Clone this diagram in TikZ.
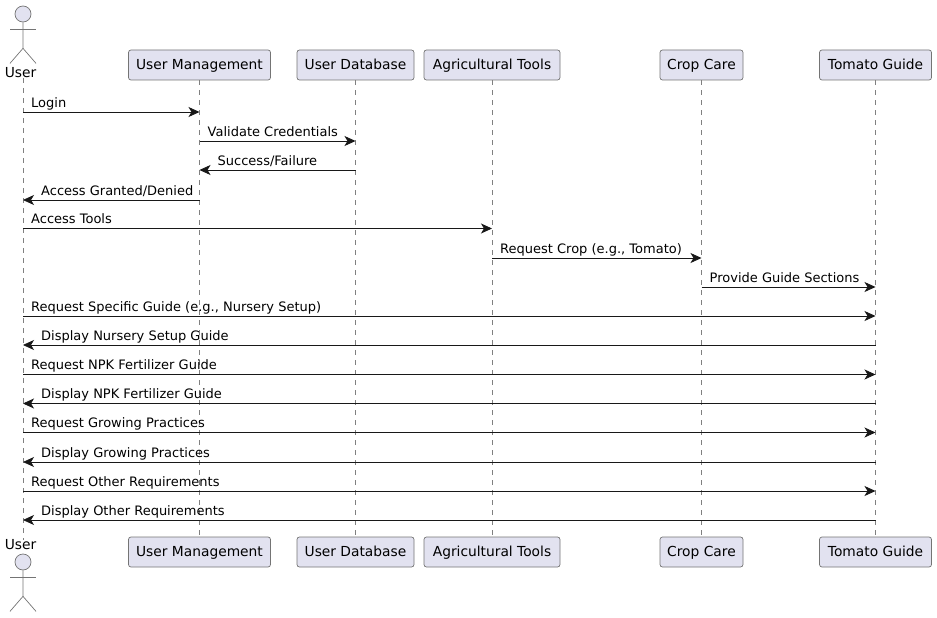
\documentclass[tikz,border=0pt]{standalone}
\usepackage{fontspec}
\setmainfont{DejaVu Sans}
\usetikzlibrary{arrows.meta,calc}
\definecolor{partfill}{HTML}{E2E2F0}
\definecolor{partline}{HTML}{181818}
\tikzset{
  part/.style={draw=partline!60,line width=0.7pt,fill=partfill,rounded corners=2.5pt,minimum height=30pt,inner xsep=0pt,inner ysep=0pt,font=\fontsize{13.8}{16}\selectfont,text=black,text height=11.5pt,text depth=2pt},
  lifeline/.style={draw=partline!55,line width=0.5pt,dash pattern=on 5pt off 5pt},
  msg/.style={draw=partline,line width=0.8pt,-{Stealth[length=11pt,width=10pt,inset=3pt]}},
  msglabel/.style={anchor=base west,inner sep=0pt,font=\fontsize{13}{15}\selectfont,text=black},
  stick/.style={draw=partline!60,line width=0.7pt}
}
\begin{document}
\begin{tikzpicture}[x=1pt,y=-1pt]
      \useasboundingbox (0,0) rectangle (937,618);
      \coordinate (utop) at (23,66);
      % lifelines first, boxes go on top of them
      \foreach \name/\x/\w/\txt in {um/199.5/142/User Management,db/355.5/117/User Database,at/492/136/Agricultural Tools,cc/701.5/83/Crop Care,tg/875.5/112/Tomato Guide} {
        \node[part,minimum width=\w pt] (\name top) at (\x,65) {\txt};
        \node[part,minimum width=\w pt] (\name bot) at (\x,552) {\txt};
        \draw[lifeline] (\name top) -- (\name bot);
      }
      % actor, top and bottom
      \node[inner sep=0pt,font=\fontsize{13.8}{16}\selectfont] (usertop) at (20.5,73) {User};
      \node[inner sep=0pt,font=\fontsize{13.8}{16}\selectfont] (userbot) at (20.5,545) {User};
      \draw[lifeline] (usertop.south -| utop) -- (userbot.north -| utop);
      \foreach \nm/\y in {headtop/14,headbot/562} {
        \node[circle,stick,fill=partfill,minimum size=16pt,inner sep=0pt] (\nm) at (23,\y) {};
        \draw[stick] (\nm.south) -- ++(0,26) -- ++(-13,15);
        \draw[stick] (\nm.south) ++(0,26) -- ++(13,15);
        \draw[stick] (\nm.south) ++(-13,7) -- ++(26,0);
      }
      % left to right messages
      \foreach \from/\to/\y/\txt in {utop/umtop/112/Login,umtop/dbtop/141/Validate Credentials,utop/attop/228.5/Access Tools,attop/cctop/258/{Request Crop (e.g., Tomato)},cctop/tgtop/287/Provide Guide Sections,utop/tgtop/316/{Request Specific Guide (e.g., Nursery Setup)},utop/tgtop/374.5/Request NPK Fertilizer Guide,utop/tgtop/432.5/Request Growing Practices,utop/tgtop/491/Request Other Requirements} {
        \coordinate (a) at (\from |- 0,\y);
        \coordinate (b) at (\to |- 0,\y);
        \draw[msg] (a) -- (b);
        \node[msglabel] at ($(a)+(8,-4.6)$) {\txt};
      }
      % right to left messages
      \foreach \from/\to/\y/\txt in {dbtop/umtop/170/{Success/Failure},umtop/utop/200/{Access Granted/Denied},tgtop/utop/345/Display Nursery Setup Guide,tgtop/utop/403.5/Display NPK Fertilizer Guide,tgtop/utop/462/Display Growing Practices,tgtop/utop/520/Display Other Requirements} {
        \coordinate (a) at (\from |- 0,\y);
        \coordinate (b) at (\to |- 0,\y);
        \draw[msg] (a) -- (b);
        \node[msglabel] at ($(b)+(18,-4.6)$) {\txt};
      }
    \end{tikzpicture}
\end{document}
